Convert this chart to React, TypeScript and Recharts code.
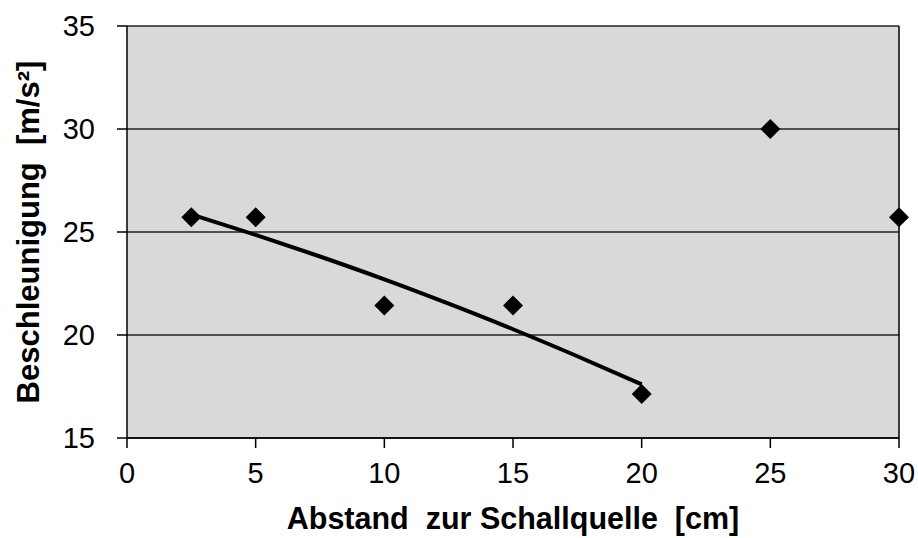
import { ScatterChart, Scatter, XAxis, YAxis, CartesianGrid, ReferenceLine } from 'recharts';

// Messpunkte
const abstand = [2.5, 5, 10, 15, 20, 25, 30];
const beschleunigung = [25.71, 25.71, 21.43, 21.43, 17.14, 30, 25.71];

// Trendlinie
const trendAbstand = [2.5, 5, 7.5, 10, 12.5, 15, 17.5, 20];
const trendWert = [25.85, 24.86, 23.81, 22.7, 21.52, 20.28, 18.97, 17.6];

const xTicks = [0, 5, 10, 15, 20, 25, 30];
const yTicks = [15, 20, 25, 30, 35];

const font = '"Liberation Sans", Arial, sans-serif';

const punkte = abstand.map((x, i) => ({ x, y: beschleunigung[i] }));
const trend = trendAbstand.map((x, i) => ({ x, y: trendWert[i] }));

const Diamond = (props: any) => {
  const { cx, cy } = props;
  const r = 10;
  return <path d={`M${cx},${cy - r}L${cx + r},${cy}L${cx},${cy + r}L${cx - r},${cy}Z`} fill="#000" />;
};

const Nothing = () => <g />;

export default function App() {
  return (
    <div style={{ position: 'absolute', left: 0, top: 0, width: 918, height: 538, background: '#fff' }}>
      <ScatterChart width={918} height={538} margin={{ top: 26, right: 19, left: 0, bottom: 0 }}>
        <CartesianGrid fill="#d9d9d9" vertical={false} stroke="#222" strokeWidth={1.5} />
        <XAxis
          type="number"
          dataKey="x"
          domain={[0, 30]}
          ticks={xTicks}
          interval={0}
          height={100}
          stroke="#000"
          strokeWidth={1.5}
          tickSize={10}
          tickMargin={14}
          tick={{ fontSize: 29, fill: '#000', fontFamily: font }}
          label={{
            value: 'Abstand\u00A0 zur Schallquelle\u00A0 [cm]',
            position: 'insideBottom',
            offset: 9,
            style: { fontSize: 30.5, fontWeight: 'bold', fill: '#000', fontFamily: font },
          }}
        />
        <YAxis
          type="number"
          dataKey="y"
          domain={[15, 35]}
          ticks={yTicks}
          interval={0}
          width={127}
          stroke="#000"
          strokeWidth={1.5}
          tickSize={10}
          tickMargin={22}
          tick={{ fontSize: 29, fill: '#000', fontFamily: font }}
          label={{
            value: 'Beschleunigung\u00A0 [m/s²]',
            angle: -90,
            position: 'insideLeft',
            offset: 28,
            style: { fontSize: 31, fontWeight: 'bold', fill: '#000', fontFamily: font, textAnchor: 'middle' },
          }}
        />
        <ReferenceLine x={30} stroke="#000" strokeWidth={1.5} />
        <Scatter
          data={trend}
          line={{ stroke: '#000', strokeWidth: 4 }}
          lineType="joint"
          lineJointType="monotoneX"
          shape={Nothing}
          isAnimationActive={false}
        />
        <Scatter data={punkte} shape={Diamond} isAnimationActive={false} />
      </ScatterChart>
    </div>
  );
}
